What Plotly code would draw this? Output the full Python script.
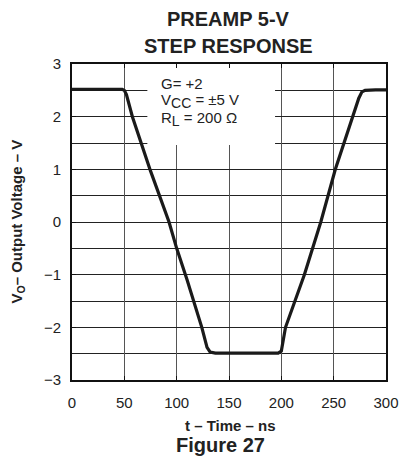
import plotly.graph_objects as go

# Data
time_ns = [0, 10, 20, 30, 40, 48, 50, 52, 57.7, 75, 92.7, 100, 110, 124, 129, 132, 137, 150, 170, 190, 197, 200, 204, 222, 237.7, 251.6, 267, 274, 277, 280, 290, 300]
vout = [2.52, 2.52, 2.51, 2.52, 2.52, 2.52, 2.5, 2.42, 2.0, 0.97, 0.0, -0.5, -1.1, -2.0, -2.38, -2.47, -2.49, -2.49, -2.5, -2.49, -2.49, -2.45, -2.0, -1.0, 0.0, 1.0, 1.94, 2.35, 2.47, 2.5, 2.51, 2.51]

x_ticks = [0, 50, 100, 150, 200, 250, 300]
y_ticks = [-3, -2, -1, 0, 1, 2, 3]
y_tick_text = ["\u22123", "\u22122", "\u22121", "0", "1", "2", "3"]

FONT = "Liberation Sans, Arial, sans-serif"

fig = go.Figure()
fig.add_trace(go.Scatter(x=time_ns, y=vout, mode="lines",
                         line=dict(color="#1a1a1a", width=3.2),
                         hoverinfo="skip", showlegend=False))

# white box behind the conditions text
fig.add_shape(type="rect", xref="x", yref="y", x0=72, x1=194, y0=1.46, y1=2.93,
              fillcolor="white", line=dict(width=0), layer="between")

L, R, T, B = 72, 22, 64, 76
W, H = 411, 456
ph = H - T - B
pw = W - L - R

def py(px):
    return (H - B - px) / ph

def px_(x):
    return (x - L) / pw

fig.update_layout(
    width=W, height=H,
    margin=dict(l=L, r=R, t=T, b=B),
    paper_bgcolor="white", plot_bgcolor="white",
    font=dict(family=FONT, color="#222", size=15),
    showlegend=False,
    xaxis=dict(range=[0, 300], tickvals=x_ticks, ticktext=[str(v) for v in x_ticks],
               showgrid=True, gridcolor="#555", gridwidth=1,
               showline=True, linecolor="#111", linewidth=2, mirror="ticks",
               ticks="inside", ticklen=4, tickcolor="#111", tickwidth=1,
               zeroline=False, tickfont=dict(size=15, color="#222"), ticklabelstandoff=8),
    yaxis=dict(range=[-3, 3], tickvals=y_ticks, ticktext=y_tick_text,
               showgrid=True, gridcolor="#222", gridwidth=1,
               minor=dict(dtick=0.5, tick0=0, showgrid=True, gridcolor="#222", gridwidth=1, ticks=""),
               showline=True, linecolor="#111", linewidth=2, mirror="ticks",
               ticks="inside", ticklen=4, tickcolor="#111", tickwidth=1,
               zeroline=False, tickfont=dict(size=15, color="#222"), ticklabelstandoff=6),
)

SUB = "<sub><span style='font-size:14px'>{}</span></sub>"

ann = []
# Title
ann.append(dict(text="<b>PREAMP 5-V</b>", x=px_(230), y=py(19), xref="paper", yref="paper",
                showarrow=False, xanchor="center", yanchor="middle", font=dict(size=20, color="#222")))
ann.append(dict(text="<b>STEP RESPONSE</b>", x=px_(230), y=py(46), xref="paper", yref="paper",
                showarrow=False, xanchor="center", yanchor="middle", font=dict(size=20, color="#222")))
# Axis titles
ann.append(dict(text="<b>t \u2013 Time \u2013 ns</b>", x=px_(232), y=py(426), xref="paper", yref="paper",
                showarrow=False, xanchor="center", yanchor="middle", font=dict(size=15, color="#222")))
ann.append(dict(text="<b>Figure 27</b>", x=px_(222), y=py(445), xref="paper", yref="paper",
                showarrow=False, xanchor="center", yanchor="middle", font=dict(size=20, color="#222")))
ann.append(dict(text="<b>V<sub>O</sub>\u2013 Output Voltage \u2013 V</b>", x=px_(16), y=py(222),
                xref="paper", yref="paper", textangle=-90,
                showarrow=False, xanchor="center", yanchor="middle", font=dict(size=15, color="#222")))
# Conditions
ann.append(dict(text="G= +2", x=px_(160), y=py(94), xref="paper", yref="paper",
                showarrow=False, xanchor="left", yanchor="bottom", font=dict(size=15, color="#222")))
ann.append(dict(text="V" + SUB.format("CC") + " = \u00b15 V", x=px_(160), y=py(113), xref="paper", yref="paper",
                showarrow=False, xanchor="left", yanchor="bottom", font=dict(size=15, color="#222")))
ann.append(dict(text="R" + SUB.format("L") + " = 200 \u03a9", x=px_(160), y=py(131), xref="paper", yref="paper",
                showarrow=False, xanchor="left", yanchor="bottom", font=dict(size=15, color="#222")))

fig.update_layout(annotations=ann)
fig.write_html("out.html")
